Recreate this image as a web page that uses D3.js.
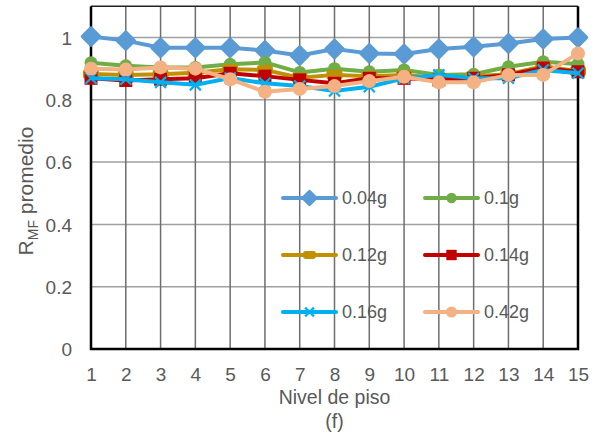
<!DOCTYPE html>
<meta charset="utf-8">
<head>
    <script src="https://d3js.org/d3.v7.min.js"></script>
    <style>
        body { margin: 0; background: #fff; }
        text { font-family: "Liberation Sans", Arial, sans-serif; fill: #595959; }
    </style>
</head>
<body>
    <div id="svg-container"></div>
</body>
<script>

const width = 602;
const height = 439;

// floor levels
const floors = [1, 2, 3, 4, 5, 6, 7, 8, 9, 10, 11, 12, 13, 14, 15];
const yTicks = [0, 0.2, 0.4, 0.6, 0.8, 1];

const seriesNames = ["0.04g", "0.1g", "0.12g", "0.14g", "0.16g", "0.42g"];
const v004 = [1.003, 0.99, 0.967, 0.967, 0.967, 0.958, 0.942, 0.963, 0.949, 0.947, 0.963, 0.970, 0.981, 0.995, 1.0];
const v010 = [0.919, 0.909, 0.904, 0.904, 0.914, 0.920, 0.888, 0.900, 0.890, 0.896, 0.880, 0.882, 0.906, 0.922, 0.915];
const v012 = [0.883, 0.880, 0.882, 0.887, 0.898, 0.896, 0.871, 0.880, 0.876, 0.880, 0.870, 0.876, 0.882, 0.908, 0.892];
const v014 = [0.869, 0.862, 0.866, 0.869, 0.885, 0.876, 0.864, 0.853, 0.869, 0.869, 0.864, 0.869, 0.880, 0.902, 0.890];
const v016 = [0.869, 0.866, 0.856, 0.848, 0.870, 0.853, 0.844, 0.828, 0.842, 0.869, 0.880, 0.869, 0.869, 0.896, 0.885];
const v042 = [0.900, 0.897, 0.904, 0.900, 0.866, 0.826, 0.835, 0.844, 0.860, 0.874, 0.856, 0.856, 0.880, 0.880, 0.949];
const seriesValues = [v004, v010, v012, v014, v016, v042];

const colors = ["#5B9BD5", "#70AD47", "#BF9000", "#C00000", "#00B0F0", "#F4B183"];
const markers = ["diamond", "dot", "bar", "square", "x", "circle"];

const x = d3.scaleLinear().domain([1, 15]).range([91, 578]);
const y = d3.scaleLinear().domain([0, 1.1]).range([349, 6.35]);

const svg = d3.select("#svg-container")
              .append("svg")
                .attr("width", width)
                .attr("height", height);

// grid
svg.append("g")
    .selectAll("line")
    .data(yTicks.filter(function(d) { return d > 0; }))
    .enter().append("line")
        .attr("x1", x(1)).attr("x2", x(15))
        .attr("y1", function(d) { return y(d); })
        .attr("y2", function(d) { return y(d); })
        .attr("stroke", "#a0a0a0")
        .attr("stroke-width", 1.5);

svg.append("g")
    .selectAll("line")
    .data(floors.slice(1, -1))
    .enter().append("line")
        .attr("x1", function(d) { return x(d); })
        .attr("x2", function(d) { return x(d); })
        .attr("y1", y(0)).attr("y2", y(1.1))
        .attr("stroke", "#6e6e6e")
        .attr("stroke-width", 1.5);

// frame
svg.append("line").attr("x1", x(1)).attr("x2", x(15)).attr("y1", y(1.1)).attr("y2", y(1.1))
    .attr("stroke", "#222").attr("stroke-width", 1.5);
svg.append("path")
    .attr("d", `M${x(1)},${y(1.1)}V${y(0)}H${x(15)}V${y(1.1)}`)
    .attr("fill", "none").attr("stroke", "#000").attr("stroke-width", 2.5);

// axes labels
const xAxis = d3.axisBottom(x).tickValues(floors).tickSize(0).tickPadding(0).tickFormat(d3.format("d"));
const gx = svg.append("g").attr("transform", `translate(0,${y(0)})`).call(xAxis);
gx.select(".domain").remove();
gx.selectAll("text").attr("dy", null).attr("y", 32).style("font-size", "19px");

const yAxis = d3.axisLeft(y).tickValues(yTicks).tickSize(0).tickPadding(0)
                .tickFormat(function(d) { return d === 0 || d === 1 ? d : d.toFixed(1); });
const gy = svg.append("g").attr("transform", `translate(72,0)`).call(yAxis);
gy.select(".domain").remove();
gy.selectAll("text").attr("dy", "0.35em").style("font-size", "19px");
svg.selectAll(".tick text").attr("fill", "#595959");

svg.append("text")
    .attr("x", (x(1) + x(15)) / 2).attr("y", 404)
    .attr("text-anchor", "middle").style("font-size", "19.5px")
    .text("Nivel de piso");
svg.append("text")
    .attr("x", (x(1) + x(15)) / 2).attr("y", 428)
    .attr("text-anchor", "middle").style("font-size", "19.5px")
    .text("(f)");

const yl = svg.append("text")
    .attr("transform", "translate(33,191) rotate(-90)")
    .attr("text-anchor", "middle")
    .style("font-size", "21px");
yl.append("tspan").text("R");
yl.append("tspan").attr("dy", 5).style("font-size", "14px").text("MF");
yl.append("tspan").attr("dy", -5).text(" promedio");

function drawMarker(g, type, color, s) {
    if (type === "diamond") {
        const r = 8.5 * s;
        g.append("path")
            .attr("d", `M${-r},0L0,${-r}L${r},0L0,${r}Z`)
            .attr("fill", color).attr("stroke", color).attr("stroke-width", 3.5 * s)
            .attr("stroke-linejoin", "round");
    } else if (type === "dot") {
        g.append("circle").attr("r", 6.5 * s).attr("fill", color);
    } else if (type === "bar") {
        g.append("rect").attr("x", -8 * s).attr("y", -5 * s).attr("width", 16 * s).attr("height", 10 * s)
            .attr("rx", 3 * s).attr("fill", color);
    } else if (type === "square") {
        g.append("rect").attr("x", -6.5 * s).attr("y", -6.5 * s).attr("width", 13 * s).attr("height", 13 * s)
            .attr("fill", color);
    } else if (type === "x") {
        const r = 5.5 * s;
        g.append("path").attr("d", `M${-r},${-r}L${r},${r}M${-r},${r}L${r},${-r}`)
            .attr("stroke", color).attr("stroke-width", 2.2);
    } else if (type === "circle") {
        g.append("circle").attr("r", 7 * s).attr("fill", color);
    }
}

// series
const line = d3.line()
    .x(function(d, i) { return x(floors[i]); })
    .y(function(d) { return y(d); });

seriesValues.forEach(function(vals, si) {
    const g = svg.append("g").attr("class", "series");
    g.append("path")
        .attr("d", line(vals))
        .attr("fill", "none")
        .attr("stroke", colors[si])
        .attr("stroke-width", 4)
        .attr("stroke-linejoin", "round");
    vals.forEach(function(v, i) {
        const m = g.append("g").attr("transform", `translate(${x(floors[i])},${y(v)})`);
        drawMarker(m, markers[si], colors[si], 1);
    });
});

// legend
const legendPos = [[283, 198], [425, 198], [283, 255], [425, 255], [283, 312], [425, 312]];
seriesNames.forEach(function(name, i) {
    const g = svg.append("g").attr("transform", `translate(${legendPos[i][0]},${legendPos[i][1]})`);
    g.append("line").attr("x1", 0).attr("x2", 53).attr("y1", 0).attr("y2", 0)
        .attr("stroke", colors[i]).attr("stroke-width", 4).attr("stroke-linecap", "round");
    const m = g.append("g").attr("transform", "translate(26.5,0)");
    drawMarker(m, markers[i], colors[i], 0.8);
    g.append("text").attr("x", 59).attr("y", 0).attr("dy", "0.35em")
        .style("font-size", "18px").text(name);
});

</script>
